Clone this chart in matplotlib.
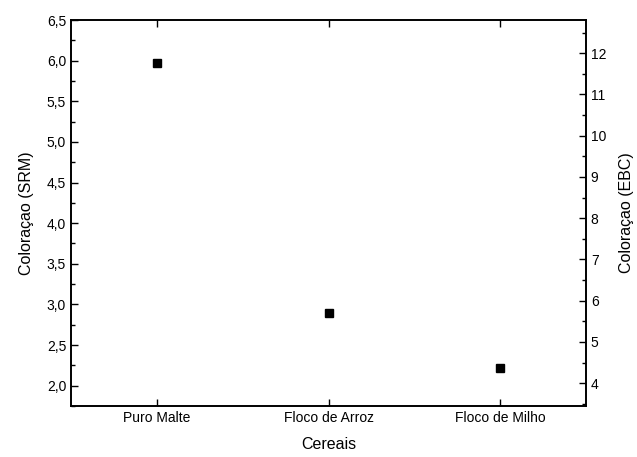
import matplotlib
matplotlib.use("Agg")
import matplotlib.pyplot as plt
from matplotlib.ticker import MultipleLocator, FuncFormatter

plt.rcParams['font.family'] = ['Liberation Sans', 'DejaVu Sans']

# data
cereais = ['Puro Malte', 'Floco de Arroz', 'Floco de Milho']
cor_srm = [5.97, 2.89, 2.22]
srm_to_ebc = 1.97

fig = plt.figure(figsize=(6.37, 4.57), dpi=100)
ax = fig.add_axes([71 / 637, 1 - 406 / 457, 515 / 637, 386 / 457])

x = list(range(len(cereais)))
ax.plot(x, cor_srm, 's', color='black', markersize=6, linestyle='none')

ax.set_xlim(-0.5, 2.5)
ax.set_ylim(1.75, 6.5)
ax.set_xticks(x)
ax.set_xticklabels(cereais)
ax.yaxis.set_major_locator(MultipleLocator(0.5))
ax.yaxis.set_minor_locator(MultipleLocator(0.25))
ax.yaxis.set_major_formatter(FuncFormatter(lambda v, p: f'{v:.1f}'.replace('.', ',')))
ax.tick_params(axis='both', which='both', direction='in', top=True, labelsize=10)
ax.tick_params(which='major', length=5, width=1)
ax.tick_params(which='minor', length=3, width=1)
ax.set_xlabel('Cereais', fontsize=11.5, labelpad=9)
ax.set_ylabel('Coloraçao (SRM)', fontsize=11.5, labelpad=9)

ax2 = ax.twinx()
lo, hi = ax.get_ylim()
ax2.set_ylim(lo * srm_to_ebc, hi * srm_to_ebc)
ax2.yaxis.set_major_locator(MultipleLocator(1))
ax2.yaxis.set_minor_locator(MultipleLocator(0.5))
ax2.tick_params(axis='y', which='both', direction='in', labelsize=10)
ax2.tick_params(which='major', length=5, width=1)
ax2.tick_params(which='minor', length=3, width=1)
ax2.set_ylabel('Coloraçao (EBC)', fontsize=11.5, labelpad=9)

for a in (ax, ax2):
    for s in a.spines.values():
        s.set_linewidth(1.2)

fig.savefig('out.png', dpi=100, facecolor='white')
